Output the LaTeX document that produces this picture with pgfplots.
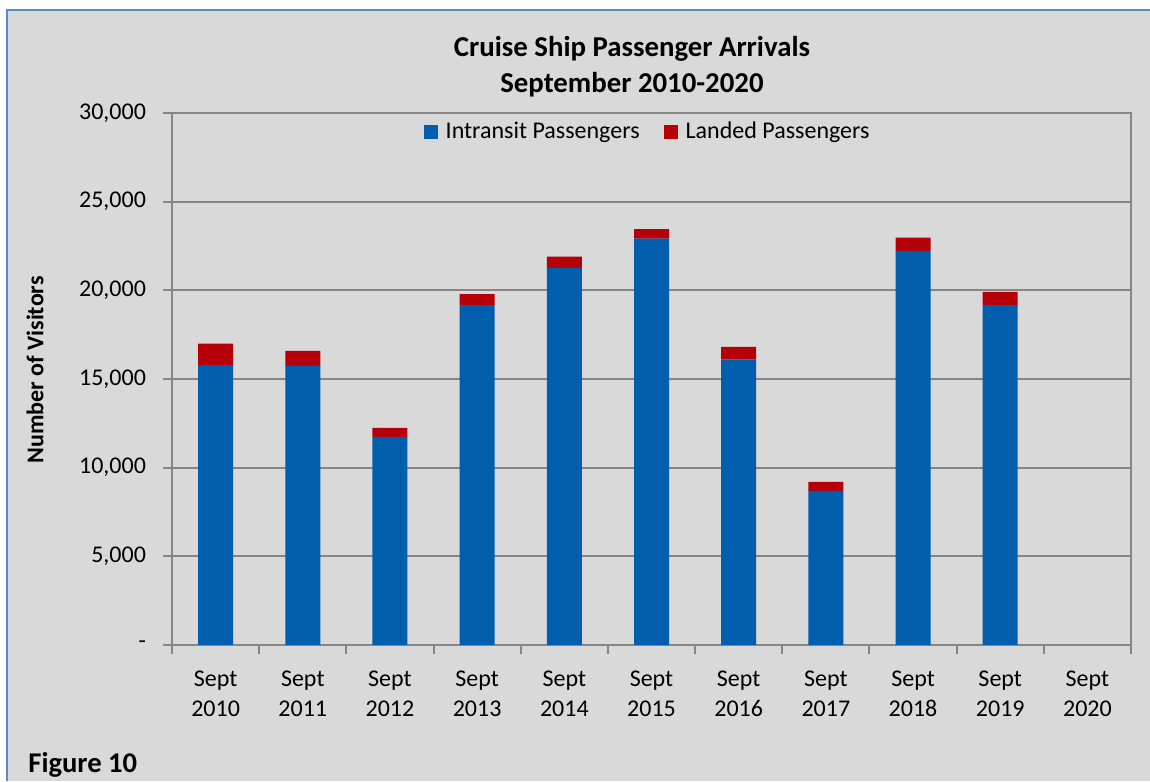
\documentclass[border=0pt]{standalone}
\usepackage{pgfplots}
\pgfplotsset{compat=1.18}
\usepackage{fontspec}
\setmainfont{Carlito}
\definecolor{bgray}{HTML}{D9D9D9}
\definecolor{agray}{HTML}{868686}
\definecolor{fblue}{HTML}{5B8BC9}
\definecolor{ibblue}{HTML}{005EAD}
\definecolor{lred}{HTML}{B5000A}

\begin{document}
\begin{tikzpicture}
	% 1px of the reference = 0.5pt
	\path[use as bounding box] (0,0) rectangle (575pt,390.5pt);
	\fill[bgray] (3.5pt,0) rectangle (575pt,385.5pt);
	\draw[fblue, line width=1pt] (3.5pt,0) -- (3.5pt,385.5pt) -- (575pt,385.5pt);
	
	\begin{axis}[
	at={(86pt,68pt)}, anchor=south west,
	scale only axis,
	width=479.5pt, height=266pt,
	ybar stacked,
	bar width=17.5pt,
	xmin=-0.5, xmax=10.5,
	ymin=0, ymax=30000,
	scaled y ticks=false,
	axis line style={agray, line width=1pt},
	axis background/.style={fill=bgray},
	ymajorgrids=true,
	grid style={agray, line width=1pt},
	xtick pos=bottom, ytick pos=left,
	tick style={draw=agray, line width=1pt},
	tick align=outside,
	major tick length=4.5pt,
	% ticks sit between the categories, labels are moved half a category
	xtick={-0.5,0.5,...,10.5},
	xticklabels={{Sept\\2010},{Sept\\2011},{Sept\\2012},{Sept\\2013},{Sept\\2014},
		{Sept\\2015},{Sept\\2016},{Sept\\2017},{Sept\\2018},{Sept\\2019},{Sept\\2020},{}},
	xticklabel style={align=center, font=\fontsize{12}{15}\selectfont, yshift=-5pt, xshift=21.8pt},
	ytick={0,5000,...,30000},
	yticklabels={-,{5,000},{10,000},{15,000},{20,000},{25,000},{30,000}},
	yticklabel style={font=\fontsize{12}{14}\selectfont, xshift=-5pt},
	/pgf/number format/assume math mode=true,
	legend columns=2,
	legend style={
		at={(0.497,0.964)}, anchor=center,
		draw=none, fill=none,
		font=\fontsize{12}{14}\selectfont,
		/tikz/every even column/.append style={column sep=10pt}
	},
	legend image code/.code={\fill[#1] (0pt,-3.5pt) rectangle (7pt,3.5pt); \path (0pt,0pt) (9pt,0pt);},
	]
	% intransit passengers
	\addplot[fill=ibblue, draw=none]
	coordinates {(0,15780) (1,15740) (2,11730) (3,19160) (4,21260) (5,22920)
		(6,16110) (7,8690) (8,22220) (9,19160) (10,0)};
	
	% landed passengers
	\addplot[fill=lred, draw=none]
	coordinates {(0,1220) (1,845) (2,510) (3,620) (4,640) (5,530)
		(6,700) (7,505) (8,750) (9,750) (10,0)};
	
	\legend{Intransit Passengers, Landed Passengers}
	\end{axis}
	
	\node[anchor=base, font=\fontsize{14.4}{16}\selectfont\bfseries] at (316pt,362.2pt) {Cruise Ship Passenger Arrivals};
	\node[anchor=base, font=\fontsize{14.4}{16}\selectfont\bfseries] at (316pt,344.2pt) {September 2010-2020};
	\node[rotate=90, font=\fontsize{12}{14}\selectfont\bfseries] at (17.5pt,205.5pt) {Number of Visitors};
	\node[anchor=base west, inner sep=0pt, font=\fontsize{14.3}{17}\selectfont\bfseries] at (14pt,4.5pt) {Figure 10};
\end{tikzpicture}
\end{document}
